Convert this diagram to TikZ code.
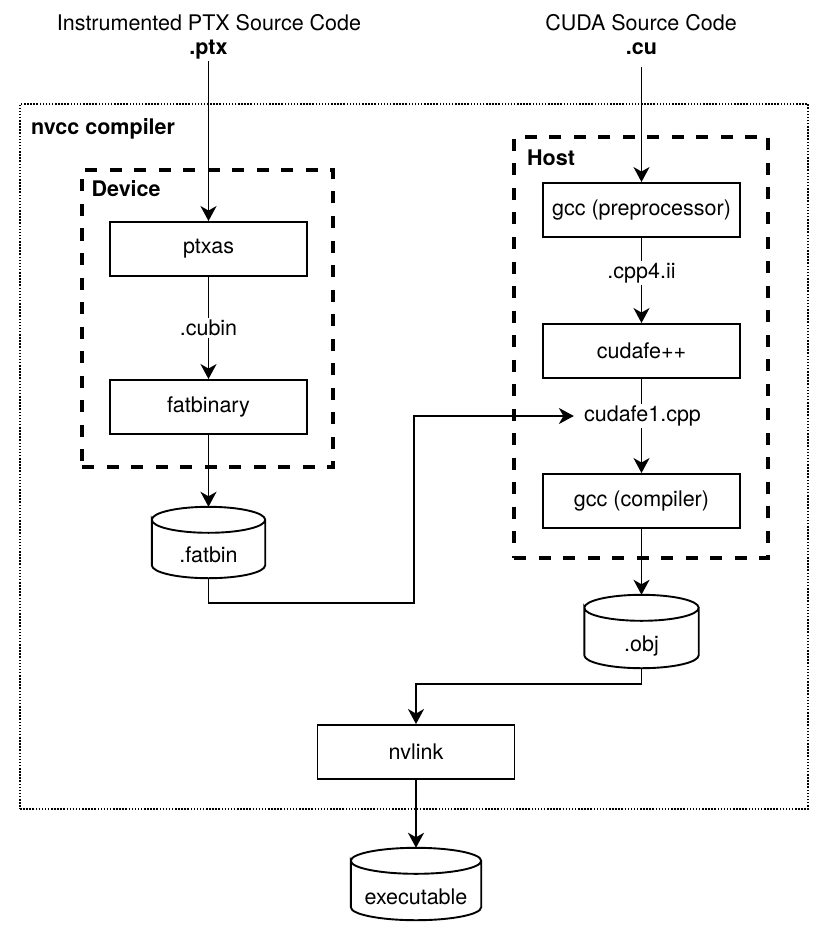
\documentclass[tikz,border=0pt]{standalone}
\usepackage{fontspec}
\setmainfont{TeX Gyre Heros}
\usetikzlibrary{arrows.meta,calc}
\begin{document}
\begin{tikzpicture}[x=1pt,y=1pt,
  every node/.style={font=\fontsize{21.5}{25}\selectfont, inner sep=2pt},
  proc/.style={draw, line width=1.9pt, minimum width=197pt, minimum height=54pt, inner sep=0pt},
  cyl/.style={inner sep=0pt, text height=40pt, text depth=0pt},
  lbl/.style={inner sep=2pt},
  grp/.style={draw, line width=3.2pt, dash pattern=on 12pt off 12.5pt, inner sep=0pt},
  outerbox/.style={draw, line width=1.6pt, dash pattern=on 1.5pt off 1.6pt, inner sep=0pt},
  grptitle/.style={anchor=base west, inner sep=0pt, font=\fontsize{21.5}{25}\selectfont\bfseries},
  conn/.style={line width=1.9pt},
  arr/.style={conn, -{Stealth[length=15pt,width=16pt,inset=4.5pt]}},
]
\useasboundingbox (0,0) rectangle (831,-925);

% containers
\node[outerbox, minimum width=788pt, minimum height=705pt] (nvcc) at (414,-456.5) {};
\node[grp, minimum width=251pt, minimum height=297pt] (device) at (207.5,-318.5) {};
\node[grp, minimum width=254pt, minimum height=421pt] (host) at (641,-347.5) {};
\node[grptitle] (nvcctitle) at (31,-135) {nvcc compiler};
\node[grptitle] (devicetitle) at (91.5,-197) {Device};
\node[grptitle] (hosttitle) at (527,-165.5) {Host};

% titles
\node[anchor=base] (ptxtitle) at (209,-31) {Instrumented PTX Source Code};
\node[anchor=base, font=\fontsize{21.5}{25}\selectfont\bfseries] (ptx) at (208.5,-54.5) {.ptx};
\node[anchor=base] (cutitle) at (641,-31) {CUDA Source Code};
\node[anchor=base, font=\fontsize{21.5}{25}\selectfont\bfseries] (cu) at (641.5,-55) {.cu};

% device column
\node[proc] (ptxas) at (208.5,-249) {ptxas};
\node[lbl] (cubin) at (208.5,-328) {.cubin};
\node[proc] (fatbinary) at (208.5,-407) {fatbinary};
\node[cyl, minimum width=113pt, minimum height=71pt] (fatbin) at (208.5,-542.5) {.fatbin};

% host column
\node[proc] (gccpre) at (641.5,-210) {gcc (preprocessor)};
\node[lbl] (cpp4) at (641.5,-273) {.cpp4.ii};
\node[proc] (cudafe) at (641.5,-351) {cudafe++};
\node[lbl] (cudafe1) at (642.5,-416) {cudafe1.cpp};
\node[proc] (gcccomp) at (641.5,-501) {gcc (compiler)};
\node[cyl, minimum width=114pt, minimum height=73pt] (obj) at (641.5,-631.5) {.obj};

% link
\node[proc] (nvlink) at (416,-752) {nvlink};
\node[cyl, minimum width=130pt, minimum height=72pt] (exe) at (416,-884) {executable};

% cylinder outlines
\foreach \c in {fatbin,obj,exe} {
  \draw[conn] let \p1=(\c.north west), \p2=(\c.south east), \n1={(\x2-\x1)/2} in
    (\x1,\y1-13pt) arc[start angle=180, end angle=-180, x radius=\n1, y radius=13pt]
    -- (\x1,\y2+13pt) arc[start angle=180, end angle=360, x radius=\n1, y radius=13pt]
    -- (\x2,\y1-13pt);
}

% connectors
\coordinate (j1) at (414,-603);
\coordinate (j2) at (416,-684);
\draw[arr] (ptx.south) -- (ptxas.north);
\draw[conn] (ptxas.south) -- (cubin.north);
\draw[arr] (cubin.south) -- (fatbinary.north);
\draw[arr] (fatbinary.south) -- (fatbin.north);
\draw[arr, shorten >=8pt] (fatbin.south) |- (j1) |- (cudafe1.west);

\draw[arr, shorten <=10pt] (cu.south) -- (gccpre.north);
\draw[conn] (gccpre.south) -- (cpp4.north);
\draw[arr] (cpp4.south) -- (cudafe.north);
\draw[conn] (cudafe.south) -- (cudafe1.north -| cudafe.south);
\draw[arr] (cudafe1.south -| gcccomp.north) -- (gcccomp.north);
\draw[arr] (gcccomp.south) -- (obj.north);
\draw[arr] (obj.south) |- (j2) -- (nvlink.north);
\draw[arr] (nvlink.south) -- (exe.north);
\end{tikzpicture}
\end{document}
